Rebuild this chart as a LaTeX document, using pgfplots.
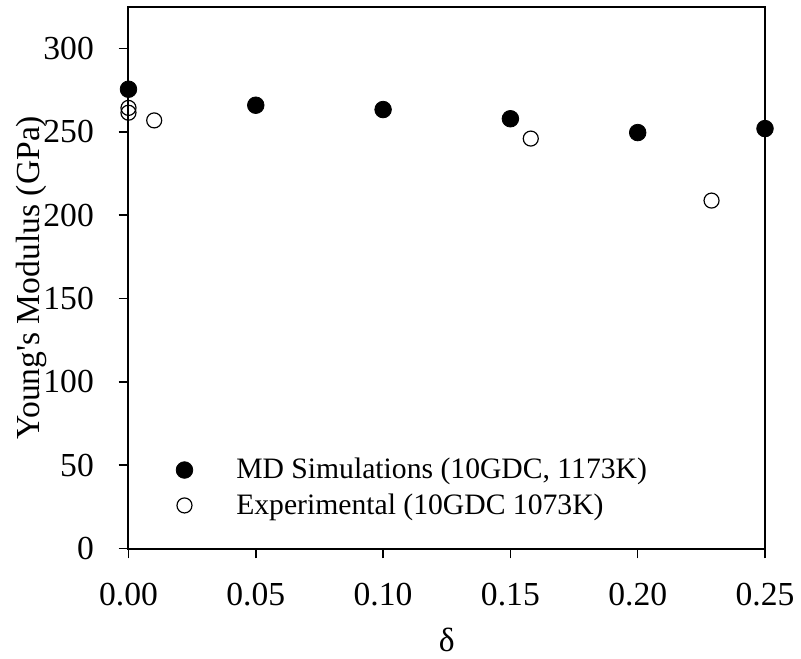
\documentclass[border=0pt]{standalone}
\usepackage{pgfplots}
\pgfplotsset{compat=1.18}
\usepackage{fontspec}
\setmainfont{Liberation Serif}

\pgfplotsset{
    gaplegend/.style={legend image code/.code={%
        \path[draw=none, fill=none] (0.3cm,0cm) (1.15cm,0cm);
        \draw[mark repeat=2,mark phase=2,##1]
        plot coordinates {(0cm,0cm)(0.3cm,0cm)(0.6cm,0cm)};}},
}

\begin{document}
\begin{tikzpicture}
\begin{axis}[
    width=322pt, height=274pt,
    scale only axis,
    xmin=0, xmax=0.25,
    ymin=0, ymax=325,
    xtick={0,0.05,...,0.25},
    ytick={0,50,...,300},
    /pgf/number format/assume math mode=true,
    tick align=outside,
    xtick pos=bottom, ytick pos=left,
    major tick length=5pt,
    axis line style={line width=1pt},
    every tick/.style={black, line width=0.8pt},
    ticklabel style={font=\fontsize{17}{20}\selectfont},
    xticklabel style={yshift=-9pt, /pgf/number format/fixed,
        /pgf/number format/fixed zerofill, /pgf/number format/precision=2},
    yticklabel style={xshift=-9pt},
    xlabel={δ}, ylabel={Young\textquotesingle s Modulus (GPa)},
    label style={font=\fontsize{17}{20}\selectfont},
    xlabel style={at={(axis description cs:0.5,-0.168)}, anchor=center},
    ylabel style={at={(axis description cs:-0.153,0.5)}, anchor=center, inner sep=8pt},
    clip=false,
    legend style={draw=none, fill=none, at={(0.065,0.182)}, anchor=north west,
        font=\fontsize{15}{18}\selectfont, row sep=2pt},
    legend cell align=left,
]
\addplot[only marks, gaplegend, mark=*, mark size=4.2pt, mark options={fill=black, draw=black}] coordinates {
    (0,275.6)(0.05,266)(0.10,263.4)(0.15,257.9)(0.20,249.6)(0.25,252)
};
\addlegendentry{MD Simulations (10GDC, 1173K)}
\addplot[only marks, gaplegend, mark=o, mark size=3.8pt, mark options={draw=black, line width=0.6pt, fill=white}] coordinates {
    (0,264.4)(0,261.5)(0.0101,256.9)(0.158,246)(0.229,208.8)
};
\addlegendentry{Experimental (10GDC 1073K)}
\end{axis}
\path (current axis.north) ++(0,3.5pt);
\end{tikzpicture}
\end{document}
